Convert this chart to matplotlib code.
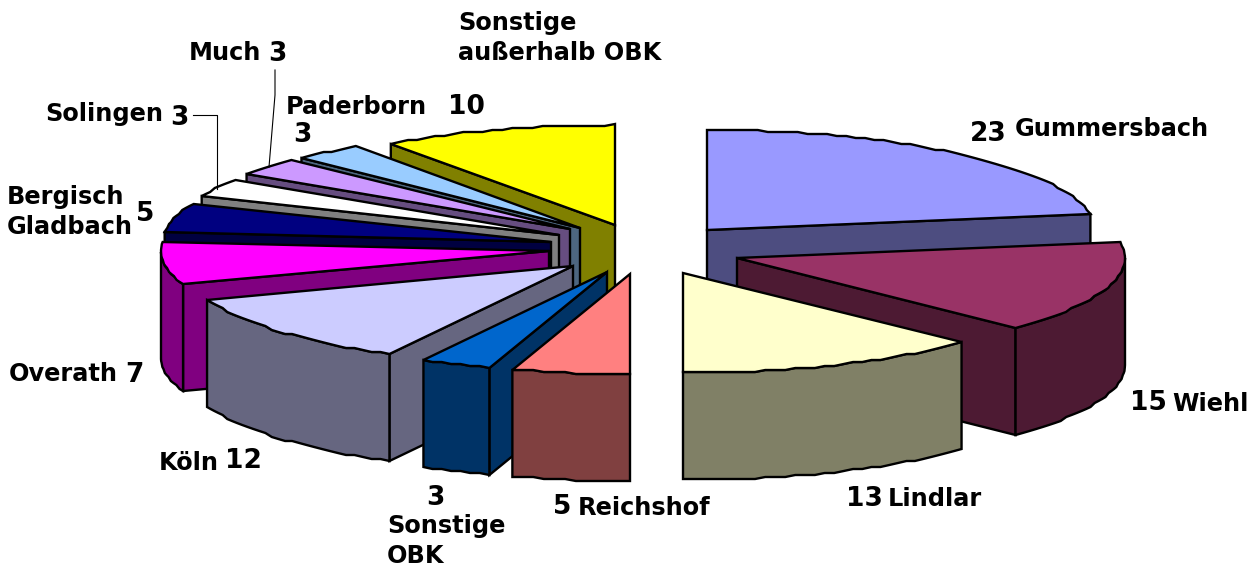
# chart-name: exploded-3d-pie-herkunft
import numpy as np
import matplotlib
matplotlib.use('Agg')
import matplotlib.pyplot as plt
from matplotlib.colors import to_rgb

names = ['Gummersbach', 'Wiehl', 'Lindlar', 'Reichshof', 'Sonstige\nOBK', 'Köln', 'Overath',
         'Bergisch\nGladbach', 'Solingen', 'Much', 'Paderborn', 'Sonstige\naußerhalb OBK']
values = [23, 15, 13, 5, 3, 12, 7, 5, 3, 3, 3, 10]
colors_list = ['#9999ff', '#993366', '#ffffcc', '#ff8080', '#0066cc', '#ccccff', '#ff00ff',
               '#000080', '#ffffff', '#cc99ff', '#99ccff', '#ffff00']

# pie geometry in pixels, slices pulled apart by hand
RX, RY, DEPTH = 388, 100, 107
tips = [(707, 230), (737, 258), (683, 273), (630, 274), (607, 272), (573, 266), (549, 251),
        (551, 242), (559, 235), (570, 229), (580, 228), (615, 225)]
draw_order = [11, 10, 9, 8, 7, 6, 5, 4, 3, 0, 1, 2]

name_pos = [(1015, 129), (1172, 404), (888, 499), (578, 508), (387, 541), (159, 463), (9, 374),
            (7, 212), (45, 114), (189, 53), (286, 107), (458, 38)]
value_pos = [(970, 134), (1130, 403), (846, 499), (553, 507), (426, 498), (225, 461), (125, 375),
             (136, 214), (170, 118), (268, 54), (293, 135), (448, 107)]

fig, ax = plt.subplots(figsize=(12.58, 5.67), dpi=100)
ax.set_position([0, 0, 1, 1])
ax.set_xlim(0, 1258)
ax.set_ylim(567, 0)
ax.axis('off')

shares = np.array(values) / sum(values) * 360
ends = np.cumsum(shares)
starts = ends - shares


def rim_points(tip, a, b):
    t = np.radians(np.linspace(a, b, max(int((b - a) / 1.5), 2) + 1))
    x = tip[0] + RX * np.sin(t)
    y = tip[1] - RY * np.cos(t)
    # the original outline is slightly stepped, not smooth
    return np.column_stack([x, np.round(y / 2) * 2])


def face(pts, color, z):
    ax.fill(pts[:, 0], pts[:, 1], facecolor=color, edgecolor='black', linewidth=1.7,
            joinstyle='miter', zorder=z)


z = 1
for i in draw_order:
    tip = tips[i]
    a, b = starts[i], ends[i]
    top = rim_points(tip, a, b)
    side = tuple(c / 2 for c in to_rgb(colors_list[i]))
    down = np.array([0, DEPTH])
    if np.sin(np.radians(a)) < 0:
        p0 = np.array([tip, top[0], top[0] + down, np.array(tip) + down])
        face(p0, side, z)
    if np.sin(np.radians(b)) > 1e-6:
        p1 = np.array([tip, top[-1], top[-1] + down, np.array(tip) + down])
        face(p1, side, z)
    lo, hi = max(a, 90), min(b, 270)
    if hi > lo:
        arc = rim_points(tip, lo, hi)
        face(np.vstack([arc, arc[::-1] + down]), side, z)
    face(np.vstack([[tip], top]), colors_list[i], z)
    z += 1

# leader lines
ax.plot([193, 217, 217], [115, 115, 189], color='black', lw=0.8, zorder=z)
ax.plot([275, 275, 269], [70, 95, 167], color='black', lw=0.8, zorder=z)

for name, v, np_, vp in zip(names, values, name_pos, value_pos):
    ax.text(np_[0], np_[1], name, fontsize=17.3, fontweight='bold', ha='left', va='center',
            linespacing=1.28, color='black', zorder=z)
    ax.text(vp[0], vp[1], str(v), fontsize=19, fontweight='bold', ha='left', va='center',
            color='black', zorder=z)

plt.savefig('out.png', dpi=100)
plt.close()
